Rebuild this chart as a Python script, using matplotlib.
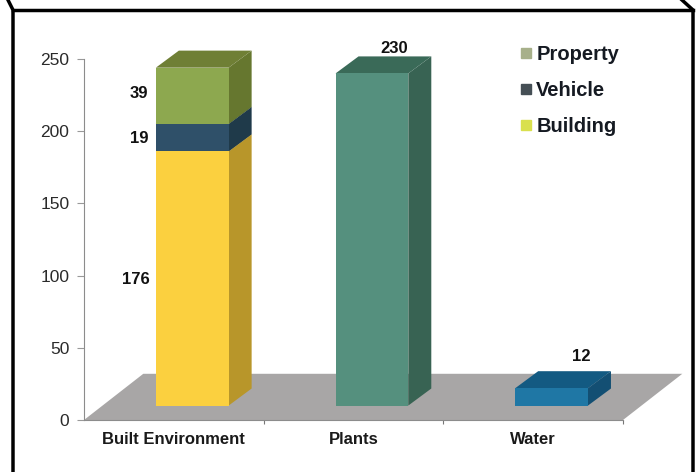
import matplotlib
matplotlib.use("Agg")
import matplotlib.pyplot as plt
from matplotlib.lines import Line2D
from matplotlib.patches import Polygon

plt.rcParams['font.family'] = ['Liberation Sans', 'DejaVu Sans']

categories = ["Built Environment", "Plants", "Water"]
building = [176, 0, 0]
vehicle = [19, 0, 0]
property_ = [39, 0, 0]
plants = [0, 230, 0]
water = [0, 0, 12]
y_ticks = [0, 50, 100, 150, 200, 250]
legend_labels = ["Property", "Vehicle", "Building"]
legend_colors = ["#a7b08a", "#454f55", "#d9e04e"]

W, H = 699, 472
BASE = 10        # bars stand on the floor, a bit above zero
DX, DY = 0.128, 11.8   # depth of the 3d look
BAR_L, BAR_W = -0.10, 0.405


def box(ax, x, bottom, value, front, side, top):
    x0 = x + BAR_L
    x1 = x0 + BAR_W
    y0 = BASE + bottom
    y1 = y0 + value
    ax.add_patch(Polygon([(x1, y0), (x1 + DX, y0 + DY), (x1 + DX, y1 + DY), (x1, y1)],
                         fc=side, ec='none', clip_on=False, zorder=3))
    ax.add_patch(Polygon([(x0, y1), (x0 + DX, y1 + DY), (x1 + DX, y1 + DY), (x1, y1)],
                         fc=top, ec='none', clip_on=False, zorder=3))
    ax.add_patch(Polygon([(x0, y0), (x1, y0), (x1, y1), (x0, y1)],
                         fc=front, ec='none', clip_on=False, zorder=4))


def value_label(ax, text, x, y, dx, dy):
    ax.annotate(text, (x, y), xytext=(dx, dy), textcoords='offset pixels', ha='center', va='center',
                fontsize=12, fontweight='bold', color='#111111', zorder=6, annotation_clip=False)


fig = plt.figure(figsize=(W / 100, H / 100), dpi=100)
ax = fig.add_axes([84 / W, 1 - 420 / H, (623 - 84) / W, (420 - 59) / H])
ax.set_xlim(-0.5, 2.5)
ax.set_ylim(0, 250)

# floor
ax.add_patch(Polygon([(-0.5, 0), (-0.17, 32), (2.83, 32), (2.5, 0)],
                     fc='#a8a6a6', ec='none', clip_on=False, zorder=1))

box(ax, 0, 0, building[0], '#fbd03f', '#b8962a', '#b8962a')
box(ax, 0, building[0], vehicle[0], '#2f5069', '#1f3a4a', '#1f3a4a')
box(ax, 0, building[0] + vehicle[0], property_[0], '#8da84f', '#66772f', '#6f7f35')
box(ax, 1, 0, plants[1], '#55907e', '#386353', '#3a6a58')
box(ax, 2, 0, water[2], '#1f77a5', '#134f73', '#135a82')

for s in ['top', 'right']:
    ax.spines[s].set_visible(False)
ax.spines['left'].set_color('#8c8c8c')
ax.spines['bottom'].set_color('#8c8c8c')
ax.set_yticks(y_ticks)
ax.tick_params(axis='y', length=5, color='#999999', labelsize=12.5, labelcolor='#2a2a2a', pad=5.5)
ax.set_xticks([0.5, 1.5, 2.5], minor=False)
ax.set_xticklabels([])
ax.tick_params(axis='x', length=3, color='#777777')
for i, c in enumerate(categories):
    ax.annotate(c, (i, 0), xytext=(0, -20), textcoords='offset pixels', ha='center', va='center',
                fontsize=12, fontweight='bold', color='#1a1a1a')

# value labels, next to the bars
value_label(ax, "39", 0, 226, -35, 0)
value_label(ax, "19", 0, 195, -35, 0)
value_label(ax, "176", 0, 97, -38, 0)
value_label(ax, "230", 1, 230, 41, 39)
value_label(ax, "12", 2, 12, 48, 46)

handles = [Line2D([], [], ls='none', marker='s', ms=7, color=c) for c in legend_colors]
leg = ax.legend(handles, legend_labels, loc='upper left', bbox_to_anchor=(506 / W, 1 - 35 / H),
                bbox_transform=fig.transFigure, frameon=False, handletextpad=0.0,
                labelspacing=0.85, borderpad=0, handlelength=1.0,
                prop={'size': 14.5, 'weight': 'bold'})
for t in leg.get_texts():
    t.set_color('#151a22')

# black frame of the picture, in pixels
frame = fig.add_axes([0, 0, 1, 1], facecolor='none')
frame.set_xlim(0, W)
frame.set_ylim(H, 0)
frame.axis('off')
frame.plot([8, 13, 13], [0, 10, H], color='black', lw=2.5)
frame.plot([13, 693], [10, 10], color='black', lw=2.5)
frame.plot([682, 693, 693], [0, 10, H], color='black', lw=2.5)

fig.savefig("out.png", dpi=100)
